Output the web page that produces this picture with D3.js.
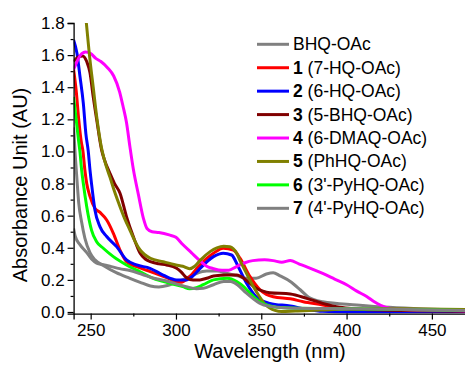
<!DOCTYPE html>
<html><head><meta charset="utf-8">
<script src="https://cdn.jsdelivr.net/npm/d3@7"></script>
<style>body{margin:0;background:#fff}svg{display:block;font-family:"Liberation Sans",Arial,sans-serif}</style>
</head><body><svg id="c" width="465" height="365"></svg>
<script>
// ---- data: [wavelength (nm), absorbance (AU)] ----
const bhqOAc = [[240,1.15],[241,0.97],[242,0.82],[243,0.68],[244.7,0.56],[246.6,0.46],[249.6,0.37],[252.5,0.325],[257.4,0.29],[265,0.245],[273,0.21],[279,0.185],[285,0.162],[290,0.156],[295,0.165],[300,0.185],[306,0.21],[312,0.24],[318,0.255],[324,0.255],[330,0.24],[336,0.225],[341,0.21],[347,0.21],[353,0.237],[357,0.245],[361,0.225],[367,0.19],[373,0.137],[378,0.09],[386,0.064],[406,0.044],[425,0.029],[445,0.019],[470,0.012]];
const hq7 = [[240,1.51],[241.5,1.38],[243,1.2],[244.5,1.06],[245.5,1.0],[246.6,0.885],[247.7,0.8],[249.6,0.72],[252.5,0.646],[255.5,0.62],[259.4,0.573],[263.3,0.49],[267.2,0.386],[271,0.313],[277,0.282],[282.8,0.26],[290.6,0.23],[296.5,0.205],[300,0.187],[303,0.185],[308,0.22],[314,0.293],[322,0.366],[327.7,0.397],[333.6,0.386],[337.5,0.335],[343.4,0.22],[349,0.141],[353,0.11],[357,0.095],[367,0.082],[374.6,0.064],[386,0.044],[396,0.023],[410,0.01],[430,0.005],[470,0.003]];
const hq6 = [[240,1.695],[242,1.61],[243.7,1.47],[245.7,1.3],[247.2,1.11],[248.6,1.0],[249.6,0.885],[250.5,0.8],[252.5,0.636],[255.5,0.53],[259.4,0.47],[265.2,0.407],[271,0.324],[277,0.293],[284.8,0.272],[292.5,0.23],[300.4,0.2],[306,0.2],[310,0.225],[314,0.27],[322,0.345],[327.7,0.366],[332.6,0.355],[336.5,0.282],[341.4,0.179],[347,0.095],[355,0.054],[367,0.037],[376.6,0.017],[386,0.004],[400,0.0],[470,0.002]];
const bhq5 = [[240,1.56],[243,1.59],[245.3,1.595],[247.7,1.56],[249.6,1.49],[251.5,1.34],[253.5,1.2],[256.4,1.01],[258,0.95],[261.3,0.864],[264,0.8],[267.2,0.74],[271,0.594],[275,0.47],[279,0.366],[282,0.33],[285,0.313],[290,0.3],[294.5,0.293],[300.4,0.272],[303,0.25],[306,0.215],[310,0.2],[314,0.2],[318,0.21],[322,0.224],[330,0.23],[335.6,0.23],[341,0.2],[347,0.148],[351,0.13],[355,0.12],[367,0.112],[376.6,0.085],[386,0.054],[396,0.029],[406,0.019],[420,0.012],[470,0.005]];
const dmaq6 = [[240,1.51],[242,1.56],[244,1.6],[247,1.62],[250,1.61],[253,1.58],[256,1.56],[260,1.52],[263.5,1.47],[267,1.37],[269,1.28],[271,1.18],[273,1.03],[275,0.89],[278,0.73],[281,0.58],[283,0.52],[286,0.5],[290,0.495],[296,0.48],[300,0.465],[304,0.42],[309,0.37],[314,0.32],[318,0.285],[322,0.27],[327,0.26],[331,0.26],[335,0.28],[340,0.305],[345,0.32],[352,0.325],[357,0.32],[362,0.31],[367,0.32],[372,0.3],[377,0.28],[386,0.24],[393,0.205],[400,0.17],[406,0.13],[412,0.095],[416,0.065],[420,0.042],[425,0.023],[432,0.015],[445,0.012],[470,0.008]];
const phhq = [[245.5,2.0],[247,1.85],[249.6,1.57],[251.5,1.4],[253.5,1.22],[256.4,1.02],[259.4,0.9],[261.3,0.84],[264,0.75],[267.2,0.656],[270,0.58],[273,0.51],[276,0.44],[279,0.386],[282,0.355],[285,0.335],[292.5,0.313],[300,0.293],[304,0.285],[308,0.27],[311,0.285],[314,0.32],[320,0.376],[324,0.4],[328,0.41],[331.6,0.407],[335.6,0.366],[338,0.31],[341.4,0.24],[345,0.165],[349,0.095],[352,0.05],[355,0.025],[358,0.01],[362,0.003],[370,0.006],[385,0.012],[400,0.018],[430,0.02],[470,0.015]];
const pyhq3 = [[240,1.34],[241.5,1.2],[243,1.06],[243.7,1.0],[244.7,0.885],[245.7,0.8],[247.7,0.656],[250.5,0.51],[253.5,0.438],[257.4,0.397],[263.3,0.345],[271,0.293],[279,0.25],[286.7,0.21],[296.5,0.179],[304,0.158],[308,0.145],[312,0.152],[316,0.17],[322,0.2],[330,0.21],[335.6,0.19],[340,0.155],[343.4,0.117],[349,0.064],[357,0.033],[367,0.025],[400,0.02],[470,0.01]];
const pyhq4 = [[240,0.52],[241,0.47],[243.7,0.42],[247.7,0.37],[250.5,0.33],[253.5,0.305],[257.4,0.295],[261.3,0.285],[267,0.27],[273,0.258],[280,0.235],[287,0.21],[294,0.195],[300,0.175],[306,0.158],[312,0.145],[316,0.148],[322,0.17],[328,0.19],[332,0.19],[336,0.17],[341,0.12],[345,0.085],[349,0.055],[355,0.035],[365,0.025],[400,0.02],[470,0.01]];

const seriesData = [bhqOAc, hq7, hq6, bhq5, dmaq6, phhq, pyhq3, pyhq4];
const seriesNum = ["", "1", "2", "3", "4", "5", "6", "7"];
const seriesName = ["BHQ-OAc", " (7-HQ-OAc)", " (6-HQ-OAc)", " (5-BHQ-OAc)", " (6-DMAQ-OAc)", " (PhHQ-OAc)", " (3'-PyHQ-OAc)", " (4'-PyHQ-OAc)"];
const seriesColor = ["#808080", "#ff0000", "#0000ff", "#800000", "#ff00ff", "#808000", "#00ff00", "#808080"];
const xTicks = [250, 300, 350, 400, 450];
const yTicks = [0, 0.2, 0.4, 0.6, 0.8, 1.0, 1.2, 1.4, 1.6, 1.8];

// ---- chart ----
const svg = d3.select("#c");
const x = d3.scaleLinear().domain([240, 470]).range([73.6, 466]);
const y = d3.scaleLinear().domain([-0.01, 1.8]).range([313.6, 23]);

svg.append("clipPath").attr("id", "clip").append("rect")
  .attr("x", 73.6).attr("y", 23).attr("width", 466 - 73.6).attr("height", 313.6 - 23);

const line = d3.line().x(d => x(d[0])).y(d => y(d[1])).curve(d3.curveMonotoneX);
const g = svg.append("g").attr("clip-path", "url(#clip)");
g.selectAll("path").data(seriesData).join("path")
  .attr("d", line).attr("fill", "none")
  .attr("stroke", (d, i) => seriesColor[i]).attr("stroke-width", 3)
  .attr("stroke-linejoin", "round");

// axes
const fs = 17;
const yAxis = svg.append("g").attr("transform", "translate(73.6,0)")
  .call(d3.axisLeft(y).tickValues(yTicks).tickFormat(d3.format(".1f")).tickSize(6).tickPadding(3));
svg.append("g").attr("transform", "translate(73.6,0)")
  .call(d3.axisLeft(y).tickValues(d3.range(0.1, 1.8, 0.2)).tickFormat("").tickSize(3))
  .select(".domain").remove();
const xAxis = svg.append("g").attr("transform", "translate(0,313.6)")
  .call(d3.axisBottom(x).tickValues(xTicks).tickFormat(d3.format("d")).tickSize(6).tickPadding(4));
svg.append("g").attr("transform", "translate(0,313.6)")
  .call(d3.axisBottom(x).tickValues([275, 325, 375, 425]).tickFormat("").tickSize(3))
  .select(".domain").remove();
svg.selectAll(".domain").attr("stroke", "#000").attr("stroke-width", 1.3);
svg.selectAll(".tick line").attr("stroke", "#000").attr("stroke-width", 1.2);
svg.selectAll(".tick text").attr("font-size", fs).attr("font-family", "Liberation Sans, Arial, sans-serif").attr("fill", "#000");

svg.append("text").attr("x", 270).attr("y", 358).attr("text-anchor", "middle")
  .attr("font-size", 20).text("Wavelength (nm)");
svg.append("text").attr("transform", "translate(27,185) rotate(-90)").attr("text-anchor", "middle")
  .attr("font-size", 20).text("Absorbance Unit (AU)");

// legend
const leg = svg.append("g");
seriesData.forEach((d, i) => {
  const yy = 44.3 + i * 23.43;
  leg.append("line").attr("x1", 257).attr("x2", 289).attr("y1", yy).attr("y2", yy)
    .attr("stroke", seriesColor[i]).attr("stroke-width", 3);
  const t = leg.append("text").attr("x", 293).attr("y", yy + 6).attr("font-size", 17.5);
  if (seriesNum[i]) t.append("tspan").attr("font-weight", "bold").text(seriesNum[i]);
  t.append("tspan").text(seriesName[i]);
});
</script></body></html>
